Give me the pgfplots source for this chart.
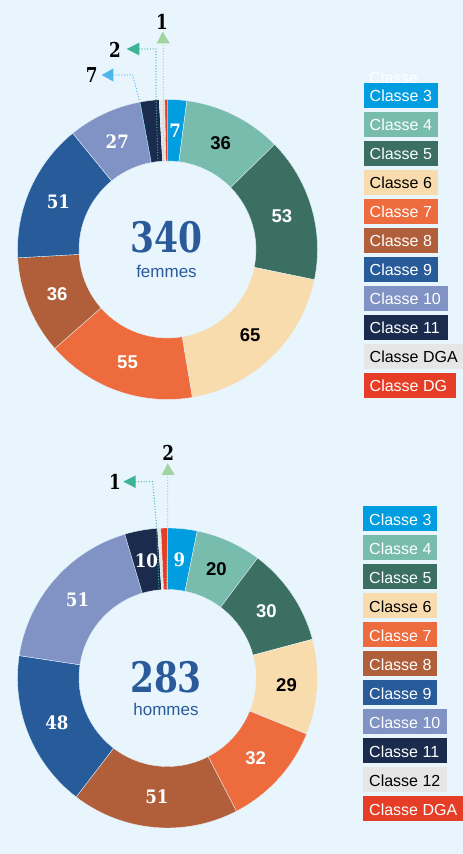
\documentclass[border=0pt]{standalone}
\usepackage{pgfplots}
\pgfplotsset{compat=1.18}
\usepackage{pgfplotstable}
\usepackage{fontspec}
\setmainfont{Liberation Sans}
\newfontfamily\slab{DejaVu Serif}[FakeStretch=0.82]
\newfontfamily\slabsm{DejaVu Serif}[FakeStretch=0.9]

\definecolor{bg}{HTML}{E8F5FD}
\definecolor{c3}{HTML}{009EE0}
\definecolor{c4}{HTML}{78BCAD}
\definecolor{c5}{HTML}{3A6F61}
\definecolor{c6}{HTML}{F9DCAD}
\definecolor{c7}{HTML}{ED6B3C}
\definecolor{c8}{HTML}{B15F3A}
\definecolor{c9}{HTML}{285B9A}
\definecolor{c10}{HTML}{8193C4}
\definecolor{c11}{HTML}{1A2B4D}
\definecolor{cgray}{HTML}{E6E6E6}
\definecolor{cred}{HTML}{E63E26}
\definecolor{tblue}{HTML}{2A5A9A}
\definecolor{agreen}{HTML}{A2D49F}
\definecolor{ateal}{HTML}{3DB496}
\definecolor{ablue}{HTML}{4DB6EA}

% femmes: slices clockwise from 12 o'clock
\pgfplotstableread{
val col txt ft
7 c3 white slab
36 c4 black sans
53 c5 white sans
65 c6 black sans
55 c7 white sans
36 c8 white sans
51 c9 white slab
27 c10 white slab
7 c11 white none
2 cgray black none
1 cred white none
}\femmes

% hommes
\pgfplotstableread{
val col txt ft
9 c3 white slab
20 c4 black sans
30 c5 white sans
29 c6 black sans
32 c7 white sans
51 c8 white slab
48 c9 white slab
51 c10 white slab
10 c11 white slab
1 cgray black none
2 cred white none
}\hommes

\pgfplotstableread{
lab col txt right
3 c3 white 437.7
4 c4 white 437.7
5 c5 white 437.7
6 c6 black 437.7
7 c7 white 437.7
8 c8 white 437.7
9 c9 white 437.7
10 c10 white 447.7
11 c11 white 447.7
DGA cgray black 463
DG cred white 455.7
}\legF

\pgfplotstableread{
lab col txt right
3 c3 white 437
4 c4 white 437
5 c5 white 437
6 c6 black 437
7 c7 white 437
8 c8 white 437
9 c9 white 437
10 c10 white 447
11 c11 white 447
12 cgray black 447
DGA cred white 463
}\legH

\def\fnslab{\slabsm\bfseries\fontsize{18.5bp}{18.5bp}\selectfont}
\def\fnsans{\bfseries\fontsize{18.5bp}{18.5bp}\selectfont}
\def\legfont{\fontsize{16bp}{16bp}\selectfont}
\def\outfont{\slab\bfseries\fontsize{20.5bp}{20.5bp}\selectfont}
\def\bignum{\slab\bfseries\fontsize{42bp}{42bp}\selectfont}
\def\wordfont{\fontsize{17bp}{17bp}\selectfont}
\def\nonestr{none}
\def\Ro{150}
\def\Ri{88.5}

\tikzset{dotl/.style={line width=1.3bp, dash pattern=on 0pt off 2.8bp, line cap=round}}

% #1 table, #2 cx, #3 cy, #4 number baseline y, #5 word baseline y, #6 word, #7 text x
\newcommand\donut[7]{%
  \pgfplotstablegetrowsof{#1}%
  \pgfmathtruncatemacro\nrows{\pgfplotsretval-1}%
  \def\tot{0}%
  \pgfplotsforeachungrouped \i in {0,...,\nrows}{%
    \pgfplotstablegetelem{\i}{val}\of#1%
    \pgfmathsetmacro\tot{\tot+\pgfplotsretval}}%
  \pgfmathsetmacro\degper{360/\tot}%
  \def\cum{0}%
  \pgfplotsforeachungrouped \i in {0,...,\nrows}{%
    \pgfplotstablegetelem{\i}{val}\of#1\edef\sv{\pgfplotsretval}%
    \pgfplotstablegetelem{\i}{col}\of#1\edef\scol{\pgfplotsretval}%
    \pgfplotstablegetelem{\i}{txt}\of#1\edef\stc{\pgfplotsretval}%
    \pgfplotstablegetelem{\i}{ft}\of#1\edef\sft{\pgfplotsretval}%
    \pgfmathsetmacro\angA{90-\cum*\degper}%
    \pgfmathsetmacro\angB{90-(\cum+\sv)*\degper}%
    \pgfmathsetmacro\angM{(\angA+\angB)/2}%
    \pgfmathsetmacro\cum{\cum+\sv}%
    \pgfmathsetmacro\xo{#2+\Ro*cos(\angA)}%
    \pgfmathsetmacro\yo{#3+\Ro*sin(\angA)}%
    \pgfmathsetmacro\xin{#2+\Ri*cos(\angB)}%
    \pgfmathsetmacro\yin{#3+\Ri*sin(\angB)}%
    \edef\temp{\noexpand\fill[fill=\scol,draw=bg,line width=0.35bp] (axis cs:\xo,\yo) arc[start angle=\angA,end angle=\angB,radius=\Ro bp] -- (axis cs:\xin,\yin) arc[start angle=\angB,end angle=\angA,radius=\Ri bp] -- cycle;}%
    \temp
    \ifx\sft\nonestr\else
      \pgfmathsetmacro\xl{#2+0.5*(\Ro+\Ri)*cos(\angM)}%
      \pgfmathsetmacro\yl{#3+0.5*(\Ro+\Ri)*sin(\angM)}%
      \edef\temp{\noexpand\node[text=\stc,font=\expandafter\noexpand\csname fn\sft\endcsname,inner sep=0pt] at (axis cs:\xl,\yl) {\sv};}%
      \temp
    \fi
  }%
  \pgfmathtruncatemacro\totint{\tot}%
  \edef\temp{\noexpand\node[anchor=base,text=tblue,font=\noexpand\bignum,inner sep=0pt] at (axis cs:#7,#4) {\totint};}%
  \temp
  \node[anchor=base,text=tblue,font=\wordfont,inner sep=0pt] at (axis cs:#7,#5) {#6};
}

% #1 table, #2 left, #3 top of first box, #4 text x
\newcommand\mylegend[4]{%
  \pgfplotstablegetrowsof{#1}%
  \pgfmathtruncatemacro\nrows{\pgfplotsretval-1}%
  \pgfplotsforeachungrouped \i in {0,...,\nrows}{%
    \pgfplotstablegetelem{\i}{lab}\of#1\edef\slabel{\pgfplotsretval}%
    \pgfplotstablegetelem{\i}{col}\of#1\edef\scol{\pgfplotsretval}%
    \pgfplotstablegetelem{\i}{txt}\of#1\edef\stc{\pgfplotsretval}%
    \pgfplotstablegetelem{\i}{right}\of#1\edef\srt{\pgfplotsretval}%
    \pgfmathsetmacro\lt{#3-29*\i}%
    \pgfmathsetmacro\lb{\lt-25}%
    \pgfmathsetmacro\lbase{\lb+6}%
    \edef\temp{\noexpand\fill[\scol] (axis cs:#2,\lt) rectangle (axis cs:\srt,\lb);
      \noexpand\node[anchor=base west,inner sep=0pt,text=\stc,font=\noexpand\legfont] at (axis cs:#4,\lbase) {Classe \slabel};}%
    \temp
  }%
}

\begin{document}
\begin{tikzpicture}
\begin{axis}[x=1bp, y=1bp, xmin=0, xmax=463, ymin=0, ymax=854,
  hide axis, clip=false, at={(0,0)}, anchor=south west]
\fill[bg] (axis cs:0,0) rectangle (axis cs:463,854);

\donut{\femmes}{167.5}{604.5}{601}{576}{femmes}{166.5}
\donut{\hommes}{167.5}{176}{162}{139}{hommes}{166}

% call-outs, femmes
\draw[agreen, dotl] (axis cs:163.3,811) -- (axis cs:163.3,693);
\fill[agreen] (axis cs:162.7,822.3) -- (axis cs:156.7,810.7) -- (axis cs:169.7,810.7) -- cycle;
\node[font=\outfont, inner sep=0pt] at (axis cs:162,832.3) {1};
\draw[ateal, dotl] (axis cs:139.3,805) -- (axis cs:156,805) -- (axis cs:156,754) -- (axis cs:158,693);
\fill[ateal] (axis cs:126.7,805) -- (axis cs:139.3,811.3) -- (axis cs:139.3,798.7) -- cycle;
\node[font=\outfont, inner sep=0pt] at (axis cs:115,804) {2};
\draw[ablue, dotl] (axis cs:113.3,779) -- (axis cs:132.7,779) -- (axis cs:139.9,751.9) -- (axis cs:151.2,691.5);
\fill[ablue] (axis cs:101.7,779) -- (axis cs:113.3,785.5) -- (axis cs:113.3,772.5) -- cycle;
\node[font=\outfont, inner sep=0pt] at (axis cs:91.7,779) {7};

% call-outs, hommes
\draw[agreen, dotl] (axis cs:167.7,379) -- (axis cs:167.7,326) -- (axis cs:166.5,264.5);
\fill[agreen] (axis cs:167.7,390.7) -- (axis cs:161.7,379) -- (axis cs:174.7,379) -- cycle;
\node[font=\outfont, inner sep=0pt] at (axis cs:168.3,400.7) {2};
\draw[ateal, dotl] (axis cs:135.7,372.3) -- (axis cs:152.7,372.3) -- (axis cs:156.7,326) -- (axis cs:159,264.5);
\fill[ateal] (axis cs:123.3,372.3) -- (axis cs:135.7,378.5) -- (axis cs:135.7,366) -- cycle;
\node[font=\outfont, inner sep=0pt] at (axis cs:115,372.3) {1};

% legends
\node[anchor=base west, inner sep=0pt, text=white, font=\legfont] at (axis cs:369,770) {Classe};
\mylegend{\legF}{364}{771.3}{369.5}
\mylegend{\legH}{363}{348}{369}
\end{axis}
\pgfresetboundingbox
\path[use as bounding box] (0,0) rectangle (463bp,854bp);
\end{tikzpicture}
\end{document}
